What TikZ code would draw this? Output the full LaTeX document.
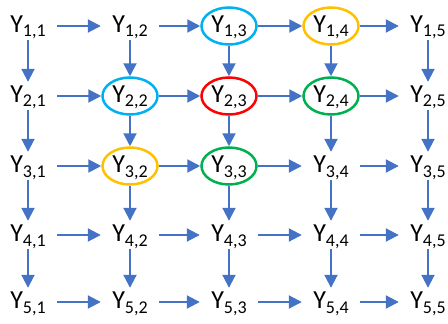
\documentclass[tikz,border=0pt]{standalone}
\usepackage{fontspec}
\setmainfont{Carlito}
\usetikzlibrary{arrows.meta,shapes.geometric}

\definecolor{flowblue}{HTML}{4472C4}
\definecolor{ringcyan}{HTML}{00B0F0}
\definecolor{ringred}{HTML}{FF0000}
\definecolor{ringorange}{HTML}{FFC000}
\definecolor{ringgreen}{HTML}{00B050}

% label Y_{i,j} with a lowered, smaller index
\newcommand{\ylab}[2]{Y\raisebox{-5pt}{\fontsize{18}{18}\selectfont #1,#2}}

\tikzset{
  cell/.style={rectangle, inner sep=0pt, minimum width=58pt, minimum height=28pt,
    font=\fontsize{26}{26}\selectfont, text height=17pt, text depth=5pt},
  ring/.style={cell, ellipse, minimum width=55pt, minimum height=37pt,
    draw=#1, line width=2.5pt},
  flow/.style={draw=flowblue, line width=2pt,
    -{Triangle[length=13pt,width=13pt]}}
}

\begin{document}
\begin{tikzpicture}[x=1pt,y=-1pt]
\useasboundingbox (0,0) rectangle (448,324);

% row 1
\node[cell]            (n11) at (28,26)  {\ylab{1}{1}};
\node[cell]            (n12) at (130,26) {\ylab{1}{2}};
\node[ring=ringcyan]   (n13) at (229,26) {\ylab{1}{3}};
\node[ring=ringorange] (n14) at (331,26) {\ylab{1}{4}};
\node[cell]            (n15) at (428,26) {\ylab{1}{5}};
% row 2
\node[cell]            (n21) at (28,96)  {\ylab{2}{1}};
\node[ring=ringcyan]   (n22) at (130,96) {\ylab{2}{2}};
\node[ring=ringred]    (n23) at (229,96) {\ylab{2}{3}};
\node[ring=ringgreen]  (n24) at (331,96) {\ylab{2}{4}};
\node[cell]            (n25) at (428,96) {\ylab{2}{5}};
% row 3
\node[cell]            (n31) at (28,166)  {\ylab{3}{1}};
\node[ring=ringorange] (n32) at (130,166) {\ylab{3}{2}};
\node[ring=ringgreen]  (n33) at (229,166) {\ylab{3}{3}};
\node[cell]            (n34) at (331,166) {\ylab{3}{4}};
\node[cell]            (n35) at (428,166) {\ylab{3}{5}};
% row 4
\node[cell] (n41) at (28,235)  {\ylab{4}{1}};
\node[cell] (n42) at (130,235) {\ylab{4}{2}};
\node[cell] (n43) at (229,235) {\ylab{4}{3}};
\node[cell] (n44) at (331,235) {\ylab{4}{4}};
\node[cell] (n45) at (428,235) {\ylab{4}{5}};
% row 5
\node[cell] (n51) at (28,302)  {\ylab{5}{1}};
\node[cell] (n52) at (130,302) {\ylab{5}{2}};
\node[cell] (n53) at (229,302) {\ylab{5}{3}};
\node[cell] (n54) at (331,302) {\ylab{5}{4}};
\node[cell] (n55) at (428,302) {\ylab{5}{5}};

% rightward links along each row
\foreach \a/\b in {11/12,12/13,13/14,14/15,
                   21/22,22/23,23/24,24/25,
                   31/32,32/33,33/34,34/35,
                   41/42,42/43,43/44,44/45,
                   51/52,52/53,53/54,54/55}
  \draw[flow] (n\a) -- (n\b);

% downward links along each column
\foreach \a/\b in {11/21,21/31,31/41,41/51,
                   12/22,22/32,32/42,42/52,
                   13/23,23/33,33/43,43/53,
                   14/24,24/34,34/44,44/54,
                   15/25,25/35,35/45,45/55}
  \draw[flow] (n\a) -- (n\b);
\end{tikzpicture}
\end{document}
